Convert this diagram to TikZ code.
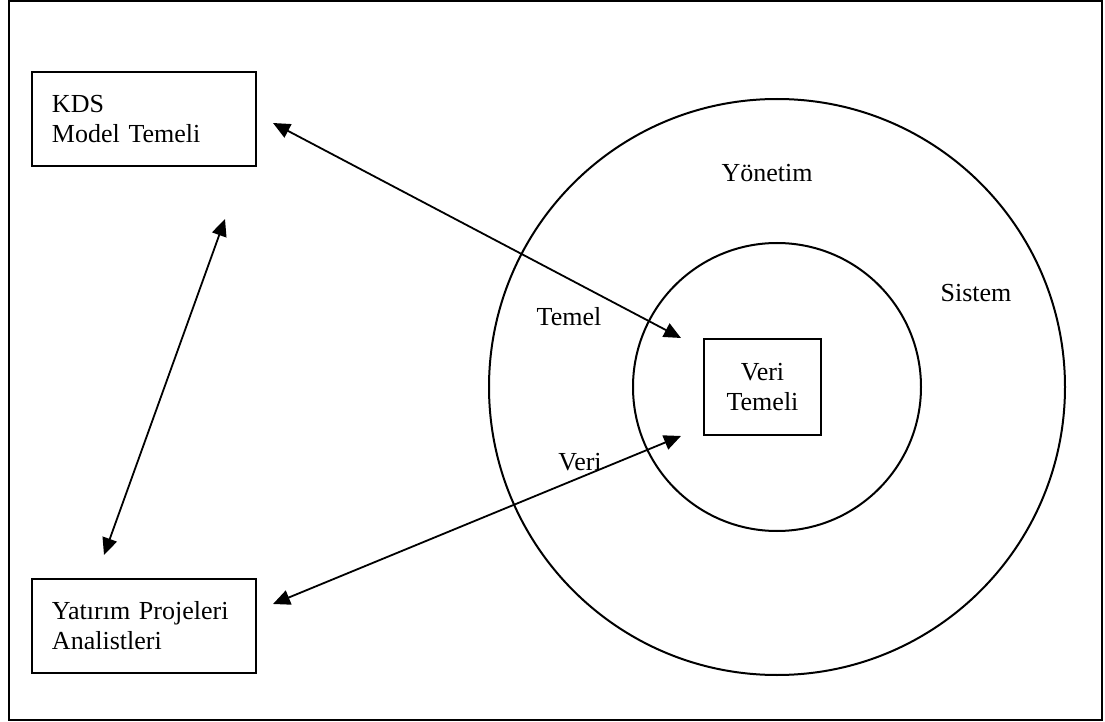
\documentclass[tikz,border=0pt]{standalone}
\usepackage{fontspec}
\setmainfont{Liberation Serif}
\usetikzlibrary{arrows.meta}
\tikzset{
  kutu/.style={draw, line width=1pt, minimum height=47pt, inner sep=0pt},
  halka/.style={draw, circle, line width=1pt, inner sep=0pt, outer sep=0pt},
  etiket/.style={inner sep=0pt},
  cift/.style={<->, line width=0.9pt, >={Triangle[length=8.5pt,width=7.5pt]}},
}
\begin{document}
\begin{tikzpicture}[x=0.5pt, y=-0.5pt, font=\fontsize{13}{15}\selectfont]
\useasboundingbox (0,0) rectangle (1105,722);
\draw[line width=1pt] (9,1) rectangle (1102,720);
% halkalar
\node[halka, minimum size=288pt](dis) at (777,387) {};
\node[halka, minimum size=144pt](ic) at (777,387) {};
% kutular
\node[kutu, text width=92pt, inner xsep=10pt, align=left](kds) at (144,119) {KDS\\Model Temeli};
\node[kutu, text width=92pt, inner xsep=10pt, align=left](yat) at (144,626) {Yatırım Projeleri\\Analistleri};
\node[kutu, minimum width=58.5pt, minimum height=48pt, align=center](veri) at (762.5,387) {Veri\\Temeli};
% etiketler
\node[etiket](yon) at (767,173) {Yönetim};
\node[etiket](sis) at (976,293) {Sistem};
\node[etiket](tem) at (569,317) {Temel};
\node[etiket](ver) at (580,462) {Veri};
\path[cift]
([shift={(16,4)}]kds.east) edge ([shift={(-22,0)}]veri.north west)
([shift={(81,52)}]kds.south) edge ([shift={(-40,-23)}]yat.north)
([shift={(16,-22)}]yat.east) edge ([shift={(-22,0)}]veri.south west);
\end{tikzpicture}
\end{document}
